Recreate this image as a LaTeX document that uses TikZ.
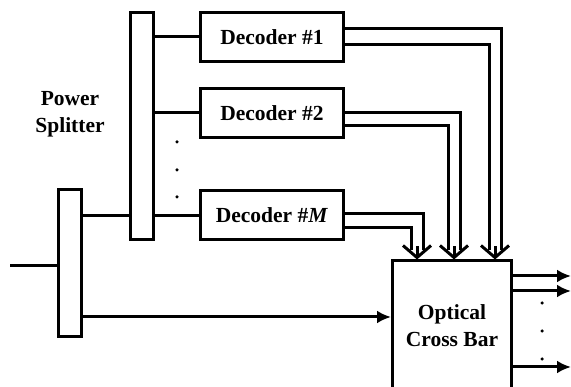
\documentclass[tikz,border=0pt]{standalone}
\usepackage{fontspec}
\setmainfont{Liberation Serif}
\usepackage{tikz}
\usetikzlibrary{arrows.meta}

\begin{document}
\begin{tikzpicture}[x=1pt, y=-1pt,
  block/.style={rectangle, draw, line width=3pt, minimum width=143pt,
    minimum height=49pt, inner sep=0pt, font=\fontsize{21.5}{27}\selectfont\bfseries},
  bar/.style={rectangle, draw, line width=3pt, minimum width=23pt, inner sep=0pt},
  wire/.style={line width=3pt},
  sig/.style={line width=3pt, -{Latex[length=14pt, width=13pt]}},
  vhead/.style={line width=3pt, -{Straight Barb[length=12pt, width=28pt]}},
  lbl/.style={align=center, font=\fontsize{21.5}{27}\selectfont\bfseries},
  dot/.style={circle, fill, inner sep=0pt, minimum size=3.5pt}
]
  \useasboundingbox (0,0) rectangle (571,387);
  \clip (0,0) rectangle (571,387);

  % Nodes
  \node[bar, minimum height=147pt] (splitA) at (70,263.5) {};
  \node[bar, minimum height=227pt] (splitB) at (141.5,126.5) {};
  \node[lbl] (power) at (70,114) {Power\\Splitter};
  \node[block] (dec1) at (272,37)    {Decoder \#1};
  \node[block] (dec2) at (272,113)   {Decoder \#2};
  \node[block] (decM) at (272,215.5) {Decoder \#\textit{M}};
  \node[block, minimum width=119pt, minimum height=130pt, align=center] (xbar) at (452,326) {Optical\\Cross Bar};
  \node[dot] (vd1) at (177,142) {};
  \node[dot] (vd2) at (177,170) {};
  \node[dot] (vd3) at (177,197) {};
  \node[dot] (od1) at (542,303) {};
  \node[dot] (od2) at (542,331) {};
  \node[dot] (od3) at (542,359) {};
  \coordinate (in)   at (10,266);
  \coordinate (xin)  at ([yshift=9pt]xbar.west);
  \coordinate (out1) at (571,276);
  \coordinate (out2) at (571,291);
  \coordinate (outN) at (571,367);

  % Splitter lines
  \draw[wire] (in) -- (in -| splitA.west);
  \draw[wire] (splitA.east |- decM.west) -- (splitB.west |- decM.west);
  \draw[wire] (splitB.east |- dec1.west) -- (dec1.west);
  \draw[wire] (splitB.east |- dec2.west) -- (dec2.west);
  \draw[wire] (splitB.east |- decM.west) -- (decM.west);
  \draw[sig]  (splitA.east |- xin) -- (xin);

  % Decoder outputs into the cross bar
  \draw[wire] ([yshift=8pt]dec1.east)    -| ([xshift=49pt,yshift=9pt]xbar.north);
  \draw[wire] ([yshift=-8pt]dec1.east)   -| ([xshift=37pt,yshift=9pt]xbar.north);
  \draw[vhead] ([xshift=43pt,yshift=13pt]xbar.north) -- ([xshift=43pt]xbar.north);
  \draw[wire] (dec2.east)                -| ([xshift=8pt,yshift=9pt]xbar.north);
  \draw[wire] ([yshift=-13pt]dec2.east)  -| ([xshift=-4pt,yshift=9pt]xbar.north);
  \draw[vhead] ([xshift=2pt,yshift=13pt]xbar.north) -- ([xshift=2pt]xbar.north);
  \draw[wire] ([yshift=1.5pt]decM.east)  -| ([xshift=-29pt,yshift=9pt]xbar.north);
  \draw[wire] ([yshift=-12.5pt]decM.east) -| ([xshift=-41pt,yshift=9pt]xbar.north);
  \draw[vhead] ([xshift=-35pt,yshift=13pt]xbar.north) -- ([xshift=-35pt]xbar.north);

  % Cross bar outputs
  \draw[sig] (out1 -| xbar.east) -- (out1);
  \draw[sig] (out2 -| xbar.east) -- (out2);
  \draw[sig] (outN -| xbar.east) -- (outN);
\end{tikzpicture}
\end{document}
